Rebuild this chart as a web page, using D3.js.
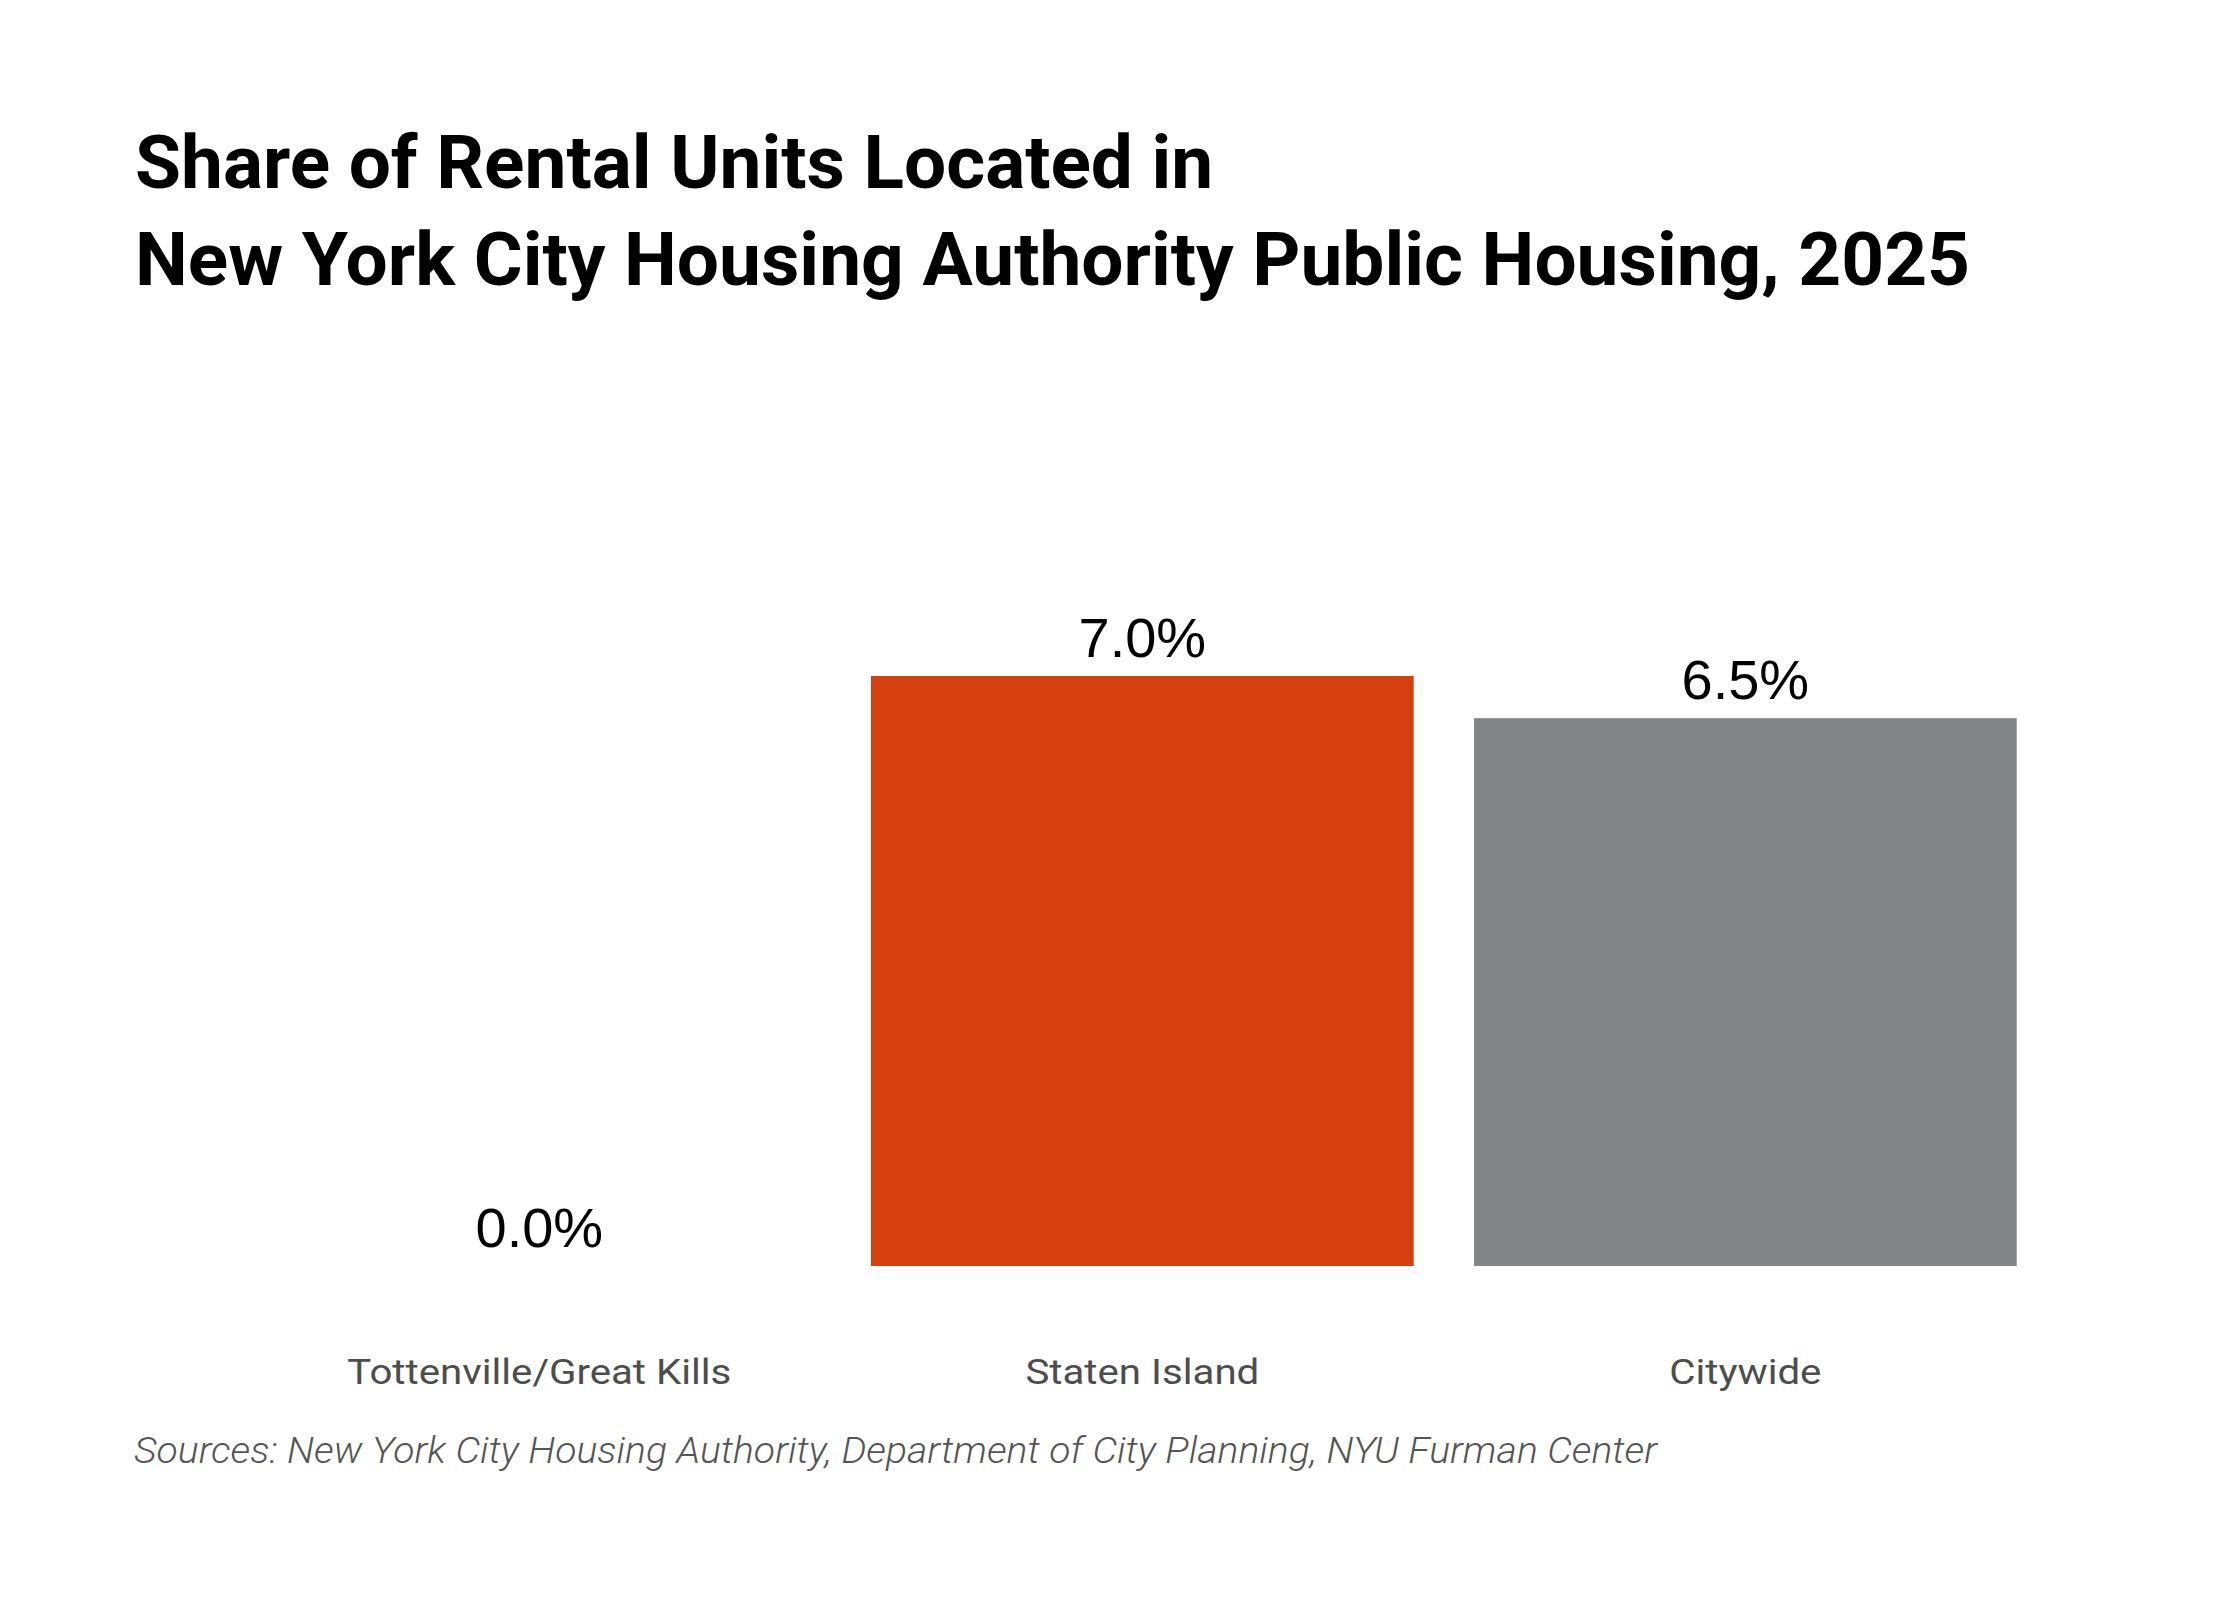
<!DOCTYPE html>
<html>
<head>
<meta charset="utf-8">
<script src="https://cdn.jsdelivr.net/npm/d3@7"></script>
<style>
  body { margin: 0; background: #fff; }
</style>
</head>
<body>
<div id="chart"></div>
<script>
// chart data
const categories = ['Tottenville/Great Kills', 'Staten Island', 'Citywide'];
const values = [0.0, 7.0, 6.5];
const barColors = ['#d64011', '#d64011', '#838485'];
const titleLines = ['Share of Rental Units Located in', 'New York City Housing Authority Public Housing, 2025'];
const sourceText = 'Sources: New York City Housing Authority, Department of City Planning, NYU Furman Center';

const width = 2240;
const height = 1600;

const svg = d3.select('#chart').append('svg')
    .attr('width', width)
    .attr('height', height);

// squeeze text horizontally so the sans fonts look condensed like the original
function condense(sel, refNode, targetWidth) {
    const factor = targetWidth / refNode.getComputedTextLength();
    sel.each(function() {
        const w = this.getComputedTextLength();
        d3.select(this)
            .attr('textLength', w * factor)
            .attr('lengthAdjust', 'spacingAndGlyphs');
    });
}

// title
const title = svg.append('g').selectAll('text')
    .data(titleLines)
    .enter().append('text')
    .attr('x', 135)
    .attr('y', (d, i) => 188 + i * 97)
    .style('font-family', 'Roboto, "Noto Sans", sans-serif')
    .style('font-weight', 700)
    .style('font-size', '74px')
    .style('fill', '#000')
    .text(d => d);
condense(title, title.nodes()[1], 1835);

// scales
const x = d3.scaleBand()
    .domain(categories)
    .range([207.7, 2077])
    .paddingInner(0.1)
    .paddingOuter(0.1);

const y = d3.scaleLinear()
    .domain([0, 7])
    .range([1266, 676]);

const data = categories.map((c, i) => ({ cat: c, value: values[i], color: barColors[i] }));

// bars
svg.selectAll('.bar')
    .data(data)
    .enter().append('rect')
    .attr('class', 'bar')
    .attr('x', d => x(d.cat))
    .attr('y', d => y(d.value))
    .attr('width', x.bandwidth())
    .attr('height', d => y(0) - y(d.value))
    .style('fill', d => d.color);

// value labels
svg.selectAll('.value')
    .data(data)
    .enter().append('text')
    .attr('class', 'value')
    .attr('x', d => x(d.cat) + x.bandwidth() / 2)
    .attr('y', d => y(d.value) - 19)
    .attr('text-anchor', 'middle')
    .style('font-family', '"Liberation Sans", Arial, sans-serif')
    .style('font-size', '56px')
    .style('fill', '#000')
    .text(d => d.value.toFixed(1) + '%');

// category axis (no line, no ticks)
const xAxis = svg.append('g')
    .attr('transform', 'translate(0,' + 1266 + ')')
    .call(d3.axisBottom(x).tickSize(0).tickPadding(118));
xAxis.select('.domain').remove();
const catText = xAxis.selectAll('text')
    .attr('dy', 0)
    .style('font-family', 'Roboto, "Noto Sans", sans-serif')
    .style('font-size', '35px')
    .style('fill', '#4d4d4d');
condense(catText, catText.nodes()[0], 384);

// sources note
const note = svg.append('text')
    .attr('x', 134)
    .attr('y', 1463)
    .style('font-family', 'Roboto, "Noto Sans", sans-serif')
    .style('font-weight', 300)
    .style('font-style', 'italic')
    .style('font-size', '36px')
    .style('fill', '#555')
    .text(sourceText);
condense(note, note.node(), 1523);
</script>
</body>
</html>
